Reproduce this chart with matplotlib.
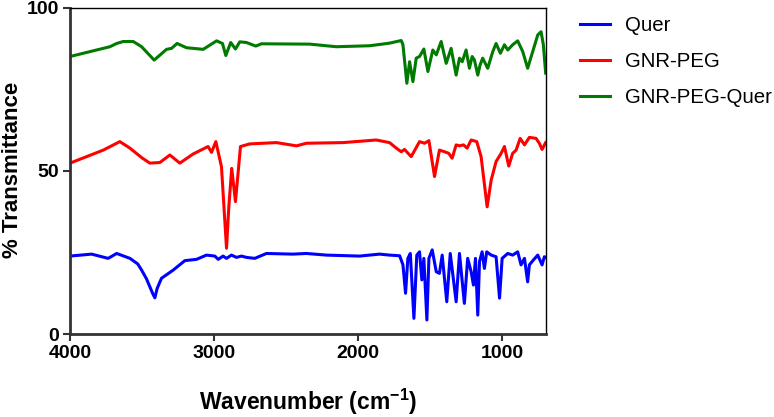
import matplotlib
matplotlib.use("Agg")
import matplotlib.pyplot as plt

plt.rcParams['font.family'] = ['Liberation Sans', 'DejaVu Sans']
plt.rcParams['mathtext.fontset'] = 'custom'
plt.rcParams['mathtext.rm'] = 'Liberation Sans'
plt.rcParams['mathtext.bf'] = 'Liberation Sans:bold'

# Quer
quer_wn = [4000, 3850, 3735, 3676, 3584, 3530, 3503, 3470, 3446, 3425, 3411, 3395, 3365, 3284, 3203,
           3122, 3053, 2995, 2972,
           2938, 2914, 2880, 2845, 2810, 2776, 2718, 2637, 2453, 2360, 2221, 1991, 1852, 1783, 1713,
           1690, 1672, 1656, 1639, 1614, 1594, 1575, 1559, 1545, 1524, 1510, 1487, 1459, 1437, 1418,
           1386, 1362, 1321, 1298, 1264, 1241, 1217, 1201, 1187, 1171, 1159, 1141, 1125, 1109, 1078,
           1044, 1020, 1002, 963, 929, 894, 871, 847, 825, 813, 785, 755, 725, 709, 700]
quer_t = [23.9, 24.5, 23.2, 24.7, 23.2, 21.5, 19.6, 17.0, 14.5, 12.3, 11.1, 14.0, 17.1, 19.6, 22.5,
          22.9, 24.2, 23.9, 22.9,
          23.9, 23.2, 24.2, 23.5, 23.9, 23.5, 23.2, 24.7, 24.5, 24.7, 24.2, 23.9, 24.5, 24.2, 24.0,
          21.2, 12.5, 23.2, 24.7, 4.8, 24.2, 25.2, 16.6, 23.2, 4.3, 23.2, 25.8, 19.1, 18.6, 24.2,
          9.9, 24.7, 9.9, 24.7, 9.4, 23.2, 19.1, 15.0, 23.2, 5.8, 22.2, 25.2, 20.1, 25.2, 24.2,
          23.7, 11.0, 23.2, 24.7, 24.2, 25.2, 21.2, 23.2, 16.0, 21.2, 22.7, 24.2, 21.2, 23.7, 23.5]

# GNR-PEG
peg_wn = [4000, 3769, 3654, 3584, 3500, 3446, 3376, 3307, 3238, 3146, 3042, 3018, 2988, 2949, 2914, 2898,
          2878, 2852, 2817, 2753, 2568, 2429, 2360, 2106, 1875, 1783, 1736, 1702, 1679, 1633, 1575,
          1540, 1510, 1471, 1437, 1402, 1372, 1349, 1321, 1298, 1270, 1245, 1217, 1178, 1148, 1106,
          1078, 1044, 1009, 986, 956, 929, 905, 877, 847, 813, 767, 744, 725, 700]
peg_t = [52.4, 56.4, 59.0, 57.0, 54.0, 52.4, 52.6, 54.9, 52.4, 55.2, 57.5, 55.7, 59.0, 51.3, 26.3, 39.0,
         50.8, 40.6, 57.5, 58.3, 58.7, 57.7, 58.5, 58.7, 59.5, 58.7, 57.0, 55.9, 56.6, 54.4, 59.0,
         58.5, 59.3, 48.3, 56.4, 55.9, 55.4, 53.9, 58.0, 57.7, 58.0, 57.0, 59.5, 59.0, 54.4, 39.0,
         47.2, 52.9, 55.4, 57.5, 51.5, 55.4, 56.4, 60.0, 58.0, 60.3, 60.0, 58.5, 56.6, 58.7]

# GNR-PEG-Quer
pq_wn = [4000, 3861, 3769, 3723, 3676, 3631, 3561, 3503, 3416, 3330, 3295, 3257, 3192, 3076, 2983,
         2942, 2919, 2885, 2852, 2822, 2776, 2711, 2672, 2337, 2152, 1921, 1783, 1702, 1690, 1663,
         1644, 1621, 1598, 1575, 1545, 1517, 1483, 1459, 1425, 1390, 1356, 1321, 1298, 1279, 1252,
         1229, 1210, 1194, 1171, 1155, 1137, 1102, 1067, 1044, 1014, 986, 963, 929, 894, 859,
         825, 790, 755, 732, 716, 700]
pq_t = [85.1, 86.6, 87.6, 88.1, 89.1, 89.7, 89.7, 88.1, 84.0, 87.3, 87.6, 89.1, 87.8, 87.3, 89.9,
        89.1, 85.4, 89.4, 87.4, 89.6, 89.4, 88.3, 89.0, 88.9, 88.1, 88.4, 89.2, 90.0, 88.7, 76.9,
        83.5, 77.4, 84.6, 85.1, 87.4, 80.5, 87.1, 85.6, 89.7, 83.0, 87.6, 79.4, 84.6, 83.5, 87.1,
        81.5, 85.1, 84.0, 79.4, 82.5, 84.6, 81.5, 86.6, 89.1, 86.1, 88.7, 87.1, 88.7, 89.9, 86.6,
        81.5, 86.6, 91.7, 92.7, 88.7, 80.0]

labels = ['Quer', 'GNR-PEG', 'GNR-PEG-Quer']
colors = ['#0000ff', '#ff0000', '#007a00']

fig = plt.figure(figsize=(7.74, 4.17), dpi=100)
ax = fig.add_axes([0.0904, 0.199, 0.705 - 0.0904, 0.981 - 0.199])

for wn, t, lab, c in zip([quer_wn, peg_wn, pq_wn], [quer_t, peg_t, pq_t], labels, colors):
    ax.plot(wn, t, color=c, lw=2.2, label=lab, solid_joinstyle='round')

ax.set_xlim(4000, 700)
ax.set_ylim(0, 100)
ax.set_xticks([4000, 3000, 2000, 1000])
ax.set_yticks([0, 50, 100])
for lab in ax.get_xticklabels() + ax.get_yticklabels():
    lab.set_fontweight('bold')
ax.tick_params(axis='both', labelsize=14, direction='out', length=5, width=1.5, color='#333333', pad=3)

for s in ['left', 'bottom']:
    ax.spines[s].set_linewidth(2)
    ax.spines[s].set_color('#333333')
for s in ['top', 'right']:
    ax.spines[s].set_linewidth(1)
    ax.spines[s].set_color('black')

ax.set_xlabel('Wavenumber (cm$^{\\mathbf{-1}}$)', fontsize=16.5, fontweight='bold')
ax.xaxis.set_label_coords(0.5, -0.163)
ax.set_ylabel('% Transmittance', fontsize=16, fontweight='bold')
ax.yaxis.set_label_coords(-0.099, 0.503)

ax.legend(loc='upper left', bbox_to_anchor=(1.056, 1.0), frameon=False, fontsize=14.7,
          handlelength=1.47, handletextpad=0.73, labelspacing=0.83, borderaxespad=0)

fig.savefig('out.png', dpi=100)
